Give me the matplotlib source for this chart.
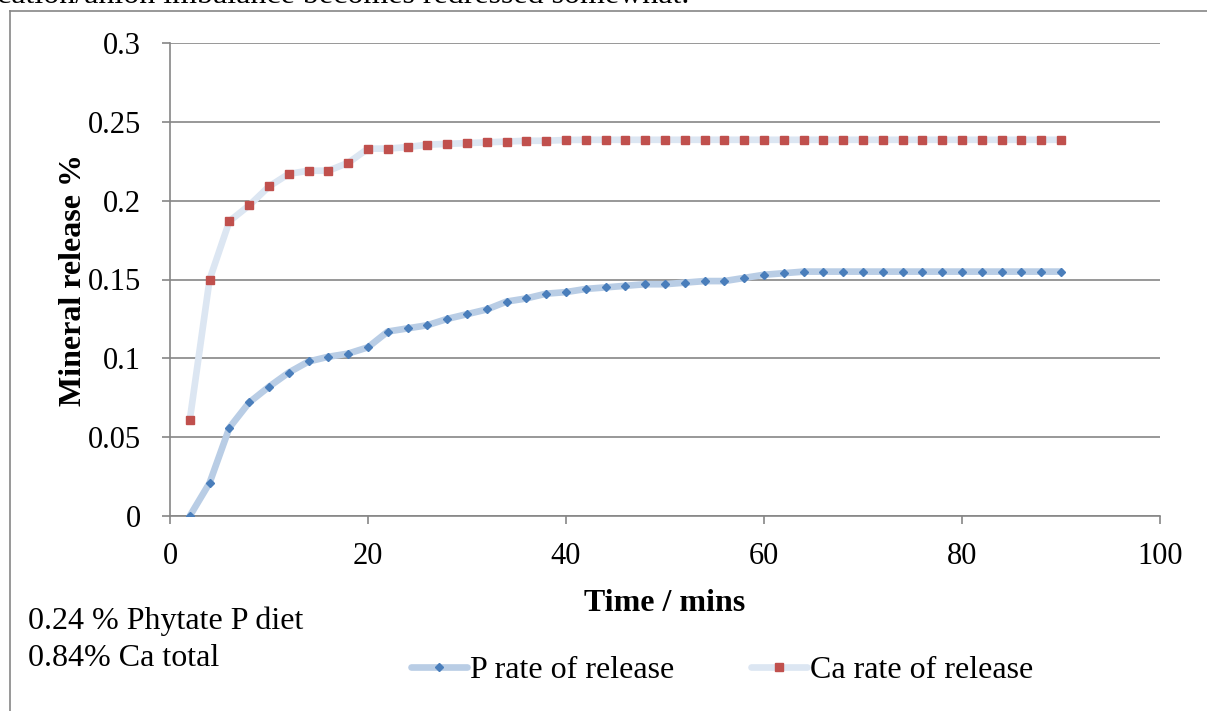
import matplotlib
matplotlib.use("Agg")
import matplotlib.pyplot as plt
from matplotlib.lines import Line2D
from matplotlib.ticker import FuncFormatter

plt.rcParams['font.family'] = 'Liberation Serif'

# sampling times (minutes)
time_mins = list(range(2, 92, 2))

# cumulative P release (%)
p_release = [0.000, 0.021, 0.056, 0.072, 0.082, 0.091, 0.098, 0.101, 0.103, 0.107,
             0.117, 0.119, 0.121, 0.125, 0.128, 0.131, 0.136, 0.138, 0.141, 0.142,
             0.144, 0.145, 0.146, 0.147, 0.147, 0.148, 0.149, 0.149, 0.151, 0.153,
             0.154, 0.155, 0.155, 0.155, 0.155, 0.155, 0.155, 0.155, 0.155, 0.155,
             0.155, 0.155, 0.155, 0.155, 0.155]

# cumulative Ca release (%)
ca_release = [0.061, 0.150, 0.187, 0.197, 0.209, 0.217, 0.219, 0.219, 0.224, 0.233,
              0.233, 0.234, 0.2355, 0.236, 0.2365, 0.237, 0.2375, 0.238, 0.238, 0.2385,
              0.2386, 0.2386, 0.2386, 0.2386, 0.2386, 0.2386, 0.2386, 0.2386, 0.2386, 0.2386,
              0.2386, 0.2386, 0.2386, 0.2386, 0.2386, 0.2386, 0.2386, 0.2386, 0.2386, 0.2386,
              0.2386, 0.2386, 0.2386, 0.2386, 0.2386]

W, H = 1207, 711
fig = plt.figure(figsize=(W / 100, H / 100), dpi=100)
ax = fig.add_axes([170 / W, 1 - 516 / H, 990 / W, 473 / H])

grid_col = '#868686'

ax.plot(time_mins, p_release, color='#b9cde5', lw=4.8, solid_capstyle='round',
        marker='D', ms=4.2, mfc='#4a7ebb', mec='#4a7ebb', label='P rate of release', zorder=3)
ax.plot(time_mins, ca_release, color='#dce6f2', lw=4.8, solid_capstyle='round',
        marker='s', ms=5.2, mfc='#c0504d', mec='#c0504d', label='Ca rate of release', zorder=3)

ax.set_xlim(0, 100)
ax.set_ylim(0, 0.3)
ax.set_xticks([0, 20, 40, 60, 80, 100])
ax.set_yticks([0, 0.05, 0.1, 0.15, 0.2, 0.25, 0.3])
ax.yaxis.set_major_formatter(FuncFormatter(lambda v, p: f'{v:g}'))

ax.yaxis.grid(True, color=grid_col, lw=1.2)
ax.set_axisbelow(True)
for side in ['top', 'right']:
    ax.spines[side].set_visible(False)
for side in ['left', 'bottom']:
    ax.spines[side].set_color(grid_col)
    ax.spines[side].set_linewidth(1.2)

ax.tick_params(axis='both', direction='out', length=6, width=1.2, color=grid_col,
               labelsize=22)
ax.tick_params(axis='y', pad=15)
ax.tick_params(axis='x', pad=13)

ax.set_xlabel('Time / mins', fontsize=23, fontweight='bold')
ax.xaxis.set_label_coords(0.5, -0.155)
ax.set_ylabel('Mineral release %', fontsize=23, fontweight='bold')
ax.yaxis.set_label_coords(-0.083, 0.5)

ax.legend(loc='center', bbox_to_anchor=(722 / W, 1 - 670 / H), bbox_transform=fig.transFigure,
          ncol=2, frameon=False, fontsize=23, handlelength=1.75, handletextpad=0.1,
          columnspacing=2.4, numpoints=1)

fig.text(28 / W, 1 - 621 / H, '0.24 % Phytate P diet', fontsize=23, va='center', ha='left')
fig.text(28 / W, 1 - 658 / H, '0.84% Ca total', fontsize=23, va='center', ha='left')

# running text above the chart frame
fig.text(-3 / W, 1 - 3 / H, 'cation/anion imbalance becomes redressed somewhat.',
         fontsize=23, va='baseline', ha='left')

# chart frame
fig.add_artist(Line2D([9.5 / W, 9.5 / W], [0, 1 - 10.5 / H], transform=fig.transFigure,
                      color=grid_col, lw=1.2))
fig.add_artist(Line2D([9.5 / W, 1], [1 - 10.5 / H, 1 - 10.5 / H], transform=fig.transFigure,
                      color=grid_col, lw=1.2))

fig.savefig('out.png', dpi=100)
